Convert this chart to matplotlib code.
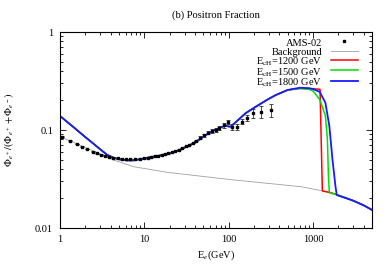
# positron fraction, AMS-02 vs model with cutoffs
import matplotlib
matplotlib.use("Agg")
import matplotlib.pyplot as plt
import matplotlib.ticker as ticker
import numpy as np

plt.rcParams['font.family'] = ['Liberation Serif', 'DejaVu Serif']
plt.rcParams['mathtext.fontset'] = 'stix'
plt.rcParams['font.size'] = 7.5

# AMS-02 data
ams_E = [1.06, 1.32, 1.58, 1.81, 2.11, 2.43, 2.73, 3.08, 3.43, 3.86, 4.3, 4.86,
         5.4, 6.1, 6.8, 7.8, 8.8, 9.8, 10.9, 12.0, 13.2, 14.5, 16.0, 17.5, 19.2,
         21.0, 23.0, 25.5, 28.0, 31.0, 34.0, 37.5, 41.5, 46.0, 51.0, 57.0, 64.0,
         70.0, 76.0, 88.0, 98.0, 110, 127, 145, 167, 195, 240, 315]
ams_F = [0.0855, 0.0778, 0.072, 0.0676, 0.064, 0.0601, 0.0578, 0.056, 0.0548,
         0.0533, 0.0522, 0.0514, 0.0506, 0.0503, 0.0503, 0.0506, 0.051, 0.0514,
         0.052, 0.0528, 0.0537, 0.0548, 0.056, 0.0572, 0.058, 0.0595, 0.061,
         0.063, 0.0655, 0.068, 0.0705, 0.074, 0.078, 0.083, 0.088, 0.094, 0.098,
         0.1, 0.104, 0.112, 0.12, 0.108, 0.108, 0.122, 0.133, 0.148, 0.154, 0.16]
ams_err = [0.0005] * 33 + [0.003, 0.003, 0.004, 0.004, 0.005, 0.005, 0.006,
                           0.006, 0.007, 0.008, 0.008, 0.01, 0.016, 0.02, 0.025]

# background
bg_E = [1.0, 2.0, 3.0, 4.3, 7.5, 18.6, 116, 720, 1300, 1630, 1970, 3000, 4000, 5000]
bg_F = [0.086, 0.066, 0.057, 0.0494, 0.0422, 0.037, 0.0309, 0.0264, 0.0239,
        0.0229, 0.0217, 0.019, 0.017, 0.0153]

# common part of the model curves (below ~500 GeV)
mod_E = [1.0, 1.5, 2.0, 2.5, 3.0, 3.6, 4.3, 5.0, 6.2, 7.5, 9.0, 12, 18.6, 25, 35,
         45, 58, 70, 84, 92, 105, 121, 158, 210, 290, 360, 500]
mod_F = [0.139, 0.1042, 0.0845, 0.0723, 0.0635, 0.0560, 0.0522, 0.0503, 0.0489,
         0.049, 0.0505, 0.053, 0.0565, 0.0615, 0.0703, 0.080, 0.093, 0.101,
         0.108, 0.110, 0.108, 0.120, 0.148, 0.173, 0.205, 0.227, 0.256]

# high-energy tails for each cutoff
red_E = [700, 900, 1100, 1210, 1290, 1630, 1970, 3000, 4000, 5000]
red_F = [0.266, 0.264, 0.262, 0.26, 0.0239, 0.0229, 0.0217, 0.019, 0.017, 0.0153]
green_E = [700, 900, 1000, 1200, 1400, 1480, 1520, 1560, 1970, 3000, 4000, 5000]
green_F = [0.265, 0.26, 0.25, 0.205, 0.14, 0.08, 0.035, 0.0229, 0.0217, 0.019, 0.017, 0.0153]
blue_E = [700, 900, 1000, 1200, 1400, 1560, 1700, 1840, 1910, 3000, 4000, 5000]
blue_F = [0.270, 0.267, 0.262, 0.245, 0.19, 0.11, 0.05, 0.027, 0.0217, 0.019, 0.017, 0.0153]

fig = plt.figure(figsize=(3.92, 2.74), dpi=100)
ax = fig.add_axes([60/392, 46/274, 312/392, 196/274])

ax.plot(bg_E, bg_F, color='#a0a0a0', lw=0.6, label='Background')
ax.plot(mod_E + red_E, mod_F + red_F, color='#ff0000', lw=1.1, label=r'E$_{\rm cH}$=1200 GeV')
ax.plot(mod_E + green_E, mod_F + green_F, color='#00e000', lw=1.1, label=r'E$_{\rm cH}$=1500 GeV')
ax.plot(mod_E + blue_E, mod_F + blue_F, color='#1a1aff', lw=1.3, label=r'E$_{\rm cH}$=1800 GeV')

ax.errorbar(ams_E, ams_F, yerr=ams_err, fmt='none', ecolor='#303030',
            elinewidth=0.6, capsize=1.5, capthick=0.6)
pts, = ax.plot(ams_E, ams_F, ls='none', marker='s', ms=1.6, color='black', label='AMS-02')

ax.set_xscale('log')
ax.set_yscale('log')
ax.set_xlim(1, 5000)
ax.set_ylim(0.01, 1)
fmt = ticker.FuncFormatter(lambda v, _: f'{v:g}')
ax.xaxis.set_major_formatter(fmt)
ax.yaxis.set_major_formatter(fmt)
ax.xaxis.set_minor_formatter(ticker.NullFormatter())
ax.yaxis.set_minor_formatter(ticker.NullFormatter())
ax.tick_params(which='both', direction='in', top=True, right=True, width=0.6)
ax.tick_params(which='major', length=4, pad=5)
ax.tick_params(which='minor', length=2)
for s in ax.spines.values():
    s.set_linewidth(0.8)

ax.set_title('(b) Positron Fraction', pad=10, fontsize=7.6)
ax.set_xlabel(r'E$_e$(GeV)', labelpad=3)
ax.set_ylabel(r'$\Phi_{e^+}/(\Phi_{e^+}+\Phi_{e^-})$')
ax.yaxis.set_label_coords(-44/312, 0.5)

handles, labels = ax.get_legend_handles_labels()
order = [4, 0, 1, 2, 3]
leg = ax.legend([handles[i] for i in order], [labels[i] for i in order],
                loc='upper right', bbox_to_anchor=(0.978, 1.015), frameon=False,
                markerfirst=False, handlelength=2.6, handletextpad=0.8,
                handleheight=1.4, labelspacing=-0.25, borderpad=0.2)
for col in leg._legend_handle_box.get_children():
    col.align = 'right'

fig.savefig('out.png', dpi=100)
